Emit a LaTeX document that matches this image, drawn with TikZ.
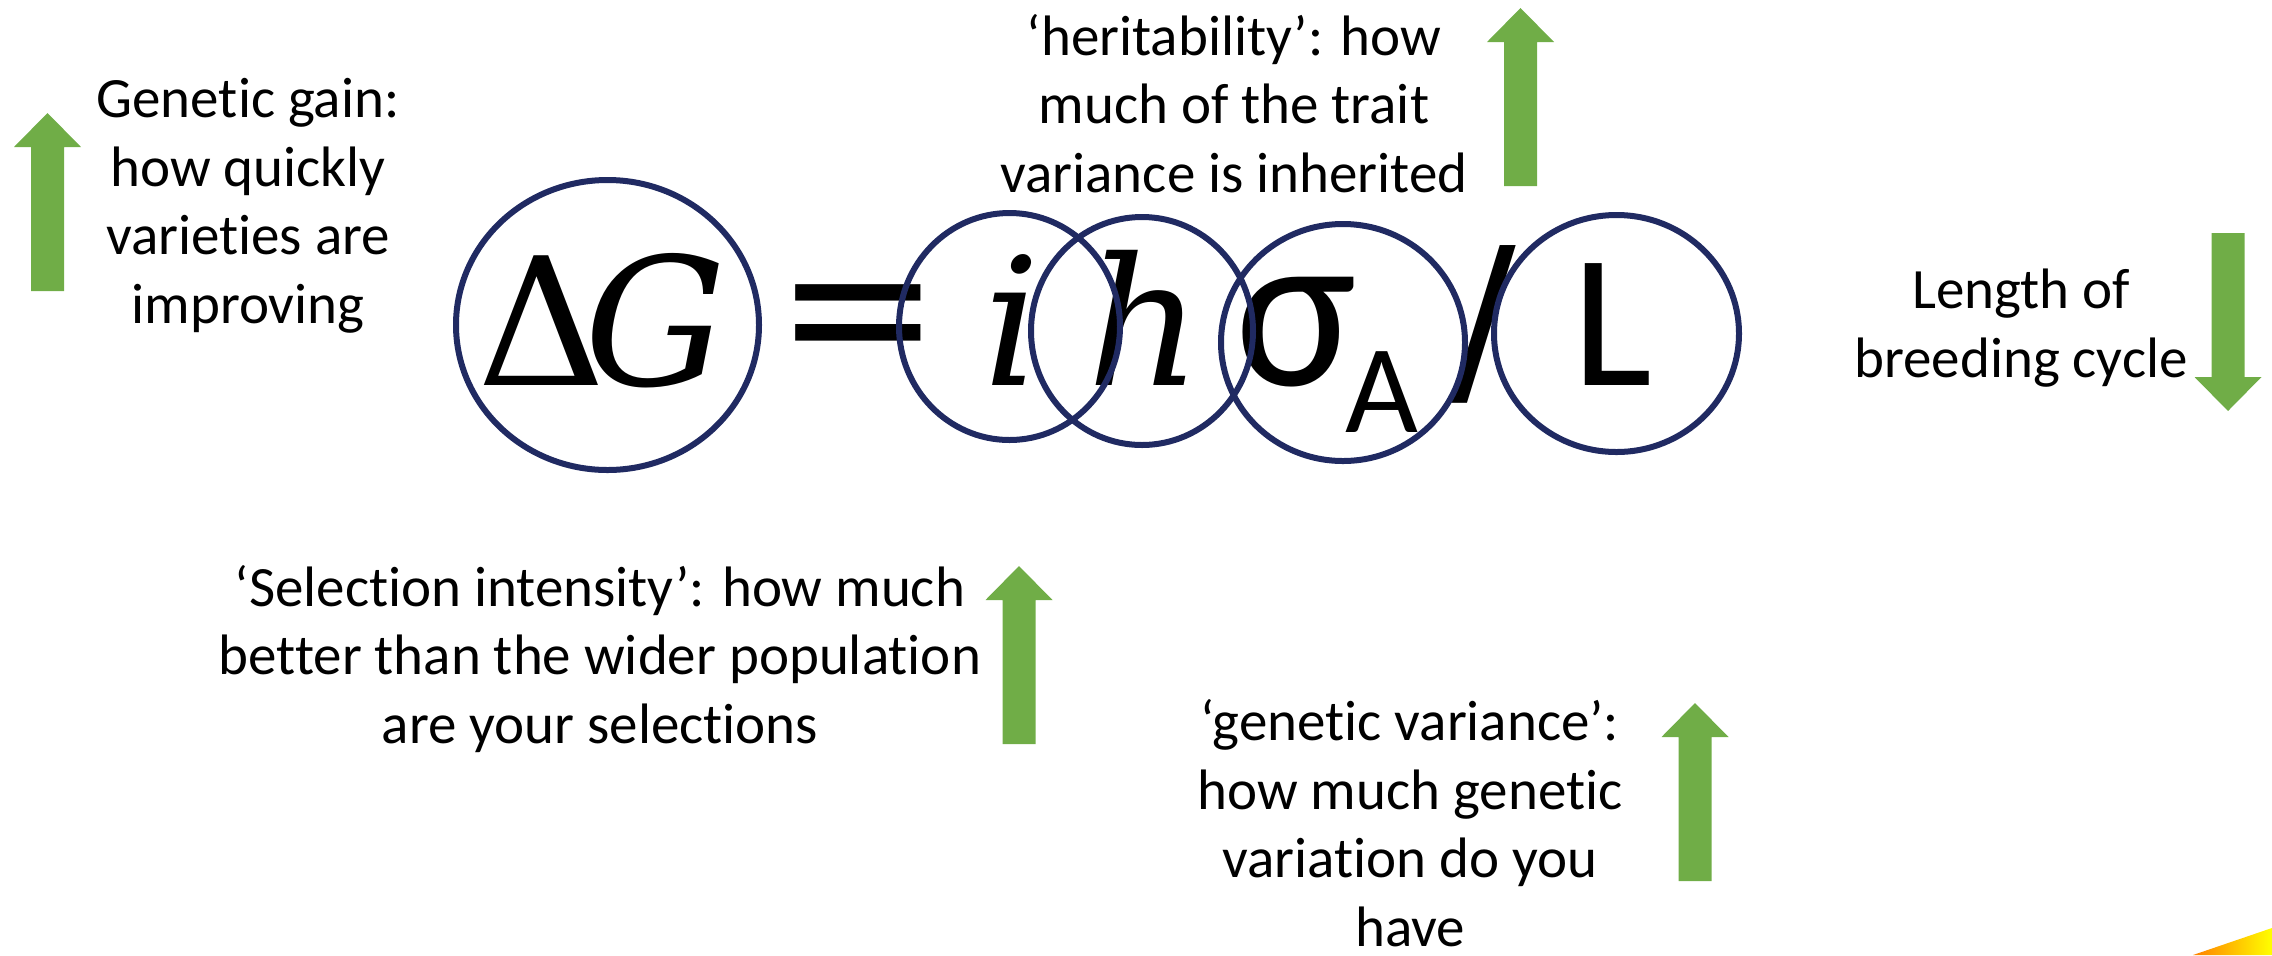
\documentclass[tikz,border=0pt]{standalone}
\usepackage{fontspec}
\setmainfont{Carlito}[Ligatures=NoCommon]
\newfontfamily\eqserif{DejaVu Serif}
\newfontfamily\eqsymb{DejaVu Sans}
\usetikzlibrary{positioning,shapes.geometric}

\definecolor{gaingreen}{RGB}{112,173,71}
\definecolor{ringblue}{RGB}{32,42,98}

\tikzset{
  note/.style={align=center,inner sep=0pt,anchor=base,
    font=\fontsize{28.5pt}{34.25pt}\selectfont},
  ring/.style={draw=ringblue,line width=3pt,ellipse,inner sep=0pt},
  eqsans/.style={inner sep=0pt,anchor=base,font=\fontsize{95pt}{95pt}\selectfont},
  eqroman/.style={inner sep=0pt,anchor=base,font=\fontsize{89pt}{89pt}\eqserif},
  eqitalic/.style={inner sep=0pt,anchor=base,font=\fontsize{89pt}{89pt}\eqserif\itshape},
  fatarrow/.pic={
    \fill[gaingreen] (0,0) -- (33.5,34) -- (16.5,34) -- (16.5,178)
      -- (-16.5,178) -- (-16.5,34) -- (-33.5,34) -- cycle;
  }
}

\begin{document}
\begin{tikzpicture}[x=0.5pt,y=-0.5pt]
\useasboundingbox (0,0) rectangle (2272,955);

% the equation
\node[eqroman] (delta) at (542,385) {Δ};
\node[eqitalic] (gee) at (656,385) {G};
\node[inner sep=0pt,font=\fontsize{100pt}{100pt}\eqsymb] (equals) at (858,330) {=};
\node[eqitalic] (eye) at (1012,385) {i};
\node[eqitalic] (aitch) at (1145,385) {h};
\node[eqsans,font=\fontsize{114pt}{114pt}\selectfont] (sigma) at (1296,385) {σ};
\node[inner sep=0pt,anchor=base,font=\fontsize{63pt}{63pt}\selectfont] (subA) at (1382,432) {A};
\node[eqsans,font=\fontsize{96pt}{96pt}\eqsymb] (slash) at (1484,385) {/};
\node[eqsans] (ell) at (1612,385) {L};

% rings round the terms
\node[ring,minimum width=151.5pt,minimum height=145pt] (ringdg) at (607.5,325) {};
\node[ring,minimum width=110.5pt,minimum height=113.5pt] (ringi) at (1009.5,326.5) {};
\node[ring,minimum width=111pt,minimum height=114pt] (ringh) at (1142,331) {};
\node[ring,minimum width=122pt,minimum height=118.5pt] (rings) at (1343,342.5) {};
\node[ring,minimum width=122.5pt,minimum height=118.5pt] (ringl) at (1616.5,333.5) {};

% notes (anchored at the last line)
\node[note] (gain) at (248,323) {Genetic gain:\\how quickly\\varieties are\\improving};
\node[note] (herit) at (1234,192) {‘heritability’: how\\much of the trait\\variance is inherited};
\node[note] (cycle) at (2021,377) {Length of\\breeding cycle};
\node[note] (select) at (600,743) {‘Selection intensity’: how much\\better than the wider population\\are your selections};
\node[note] (vari) at (1410,946) {‘genetic variance’:\\how much genetic\\variation do you\\have};

% arrows
\pic at (47.5,113) {fatarrow};
\pic at (1520.5,8) {fatarrow};
\pic[rotate=180] at (2228,411) {fatarrow};
\pic at (1019,566) {fatarrow};
\pic at (1695,703) {fatarrow};

% corner of a picture
\shade[left color=orange,right color=yellow] (2193,955) -- (2272,928) -- (2272,955) -- cycle;
\end{tikzpicture}
\end{document}
